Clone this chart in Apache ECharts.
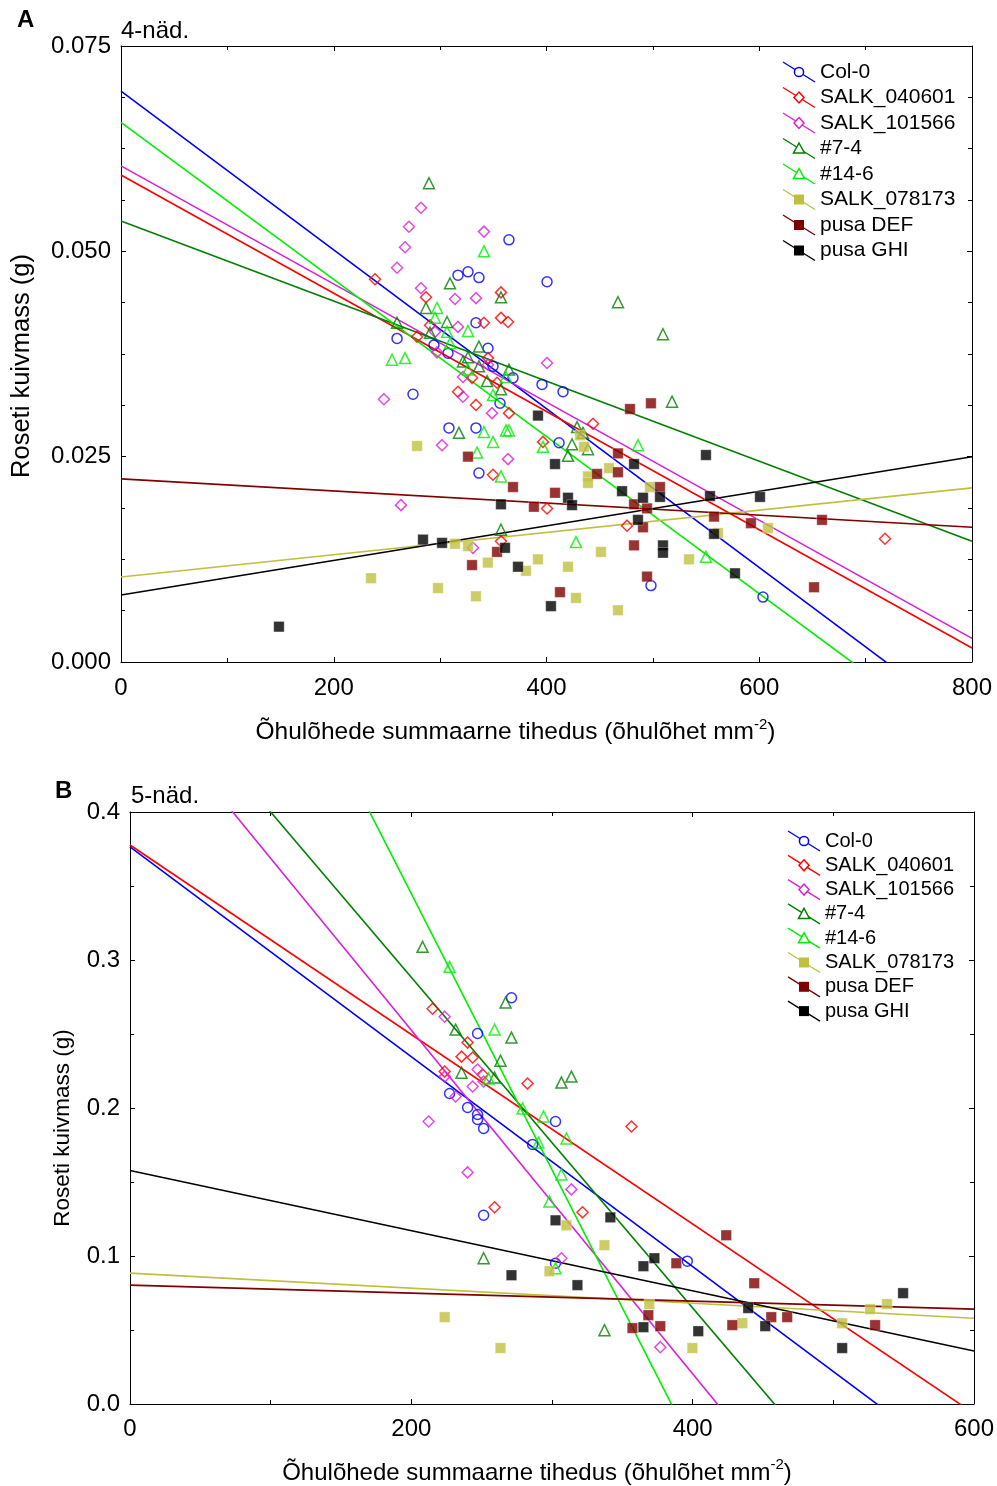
<!DOCTYPE html>
<html>
<head>
<meta charset="utf-8">
<script src="https://cdn.jsdelivr.net/npm/echarts@6/dist/echarts.min.js"></script>
<style>
html, body { margin: 0; padding: 0; background: #fff; }
#chart { width: 997px; height: 1486px; }
</style>
</head>
<body>
<div id="chart"></div>
<script>
const FONT = '"Liberation Sans", Arial, Helvetica, sans-serif';

const seriesNames = ['Col-0', 'SALK_040601', 'SALK_101566', '#7-4', '#14-6', 'SALK_078173', 'pusa DEF', 'pusa GHI'];
const seriesColors = ['#0000ff', '#ff0000', '#d820d8', '#008000', '#00ee00', '#c0c040', '#800000', '#000000'];
const seriesSymbols = ['circle', 'diamond', 'diamond', 'triangle', 'triangle', 'rect', 'rect', 'rect'];
const seriesHollow = [true, true, true, true, true, false, false, false];

// 4 weeks: [total stomatal density, rosette dry mass (g)]
const w4_col0 = [[259.5,0.0394],[294.2,0.0386],[307.4,0.0376],[274.5,0.0326],[308.3,0.0285],[316.8,0.0471],[326.2,0.0475],[336.5,0.0468],[400.5,0.0463],[333.7,0.0413],[345.0,0.0382],[349.7,0.0360],[368.5,0.0346],[395.8,0.0338],[415.5,0.0329],[356.3,0.0315],[333.7,0.0285],[411.8,0.0267],[364.7,0.0514],[336.5,0.0230],[498.2,0.0093],[603.5,0.0079]];
const w4_salk040601 = [[238.8,0.0466],[286.7,0.0444],[290.5,0.0410],[278.3,0.0396],[357.2,0.0450],[341.2,0.0413],[357.2,0.0419],[363.8,0.0414],[345.0,0.0370],[330.0,0.0346],[353.5,0.0340],[316.8,0.0329],[333.7,0.0313],[364.7,0.0303],[443.7,0.0290],[396.7,0.0268],[400.5,0.0187],[475.7,0.0166],[357.2,0.0147],[349.7,0.0228],[718.2,0.0150]];
const w4_salk101566 = [[282.0,0.0553],[270.7,0.0530],[267.0,0.0505],[259.5,0.0480],[282.0,0.0455],[295.2,0.0402],[247.2,0.0320],[301.8,0.0264],[263.2,0.0191],[314.0,0.0442],[333.7,0.0443],[316.8,0.0408],[400.5,0.0364],[321.5,0.0347],[321.5,0.0323],[348.8,0.0303],[297.1,0.0377],[345.0,0.0362],[363.8,0.0247],[330.9,0.0139],[341.2,0.0524]];
const w4_line74 = [[289.5,0.0583],[286.7,0.0431],[259.5,0.0413],[290.5,0.0401],[309.3,0.0461],[357.2,0.0444],[467.2,0.0438],[306.5,0.0414],[509.5,0.0399],[336.5,0.0384],[326.2,0.0371],[321.5,0.0366],[336.5,0.0360],[364.7,0.0356],[344.1,0.0342],[357.2,0.0332],[518.0,0.0317],[317.7,0.0279],[428.7,0.0286],[434.3,0.0279],[424.0,0.0265],[439.0,0.0259],[420.2,0.0251],[357.2,0.0161]];
const w4_line146 = [[297.1,0.0431],[295.2,0.0419],[254.8,0.0368],[267.0,0.0370],[306.5,0.0402],[326.2,0.0403],[309.3,0.0388],[326.2,0.0356],[361.9,0.0347],[349.7,0.0325],[341.2,0.0280],[349.7,0.0268],[361.9,0.0282],[364.7,0.0282],[396.7,0.0262],[486.0,0.0264],[334.7,0.0255],[357.2,0.0226],[427.7,0.0146],[549.9,0.0128],[341.2,0.0500]];
const w4_salk078173 = [[278.3,0.0263],[431.5,0.0276],[435.3,0.0262],[458.8,0.0236],[439.0,0.0226],[439.0,0.0218],[497.3,0.0213],[314.0,0.0144],[326.2,0.0141],[344.9,0.0121],[380.7,0.0111],[392.0,0.0125],[420.2,0.0116],[451.2,0.0134],[298.0,0.0090],[333.7,0.0080],[427.7,0.0078],[467.2,0.0063],[235.0,0.0102],[608.2,0.0163],[561.2,0.0157],[534.0,0.0125]];
const w4_pusaDEF = [[478.5,0.0308],[498.2,0.0315],[326.2,0.0250],[467.2,0.0254],[447.5,0.0229],[467.2,0.0231],[368.5,0.0213],[408.0,0.0206],[506.7,0.0213],[388.2,0.0189],[482.3,0.0192],[494.5,0.0187],[490.7,0.0164],[353.5,0.0134],[330.0,0.0118],[482.3,0.0142],[412.7,0.0085],[494.5,0.0104],[557.5,0.0177],[592.2,0.0169],[659.0,0.0173],[651.5,0.0091]];
const w4_pusaGHI = [[392.0,0.0300],[408.0,0.0241],[482.3,0.0241],[471.0,0.0208],[490.7,0.0200],[506.7,0.0201],[357.2,0.0192],[420.2,0.0200],[424.0,0.0191],[486.0,0.0173],[301.8,0.0145],[283.9,0.0149],[361.0,0.0139],[373.2,0.0116],[509.5,0.0142],[509.5,0.0133],[404.2,0.0068],[148.5,0.0043],[549.9,0.0252],[553.7,0.0202],[600.7,0.0201],[557.5,0.0156],[577.2,0.0108]];
// linear fits for 4 weeks (same order as seriesNames)
const w4_fitIntercept = [0.0695, 0.0593, 0.0604, 0.0537, 0.0657, 0.01035, 0.0223, 0.00816];
const w4_fitSlope = [-9.666e-5, -7.2e-5, -7.19e-5, -4.875e-5, -9.563e-5, 1.356e-5, -7.375e-6, 2.105e-5];
const w4_xTicks = [0, 200, 400, 600, 800];
const w4_yTicks = [0, 0.025, 0.050, 0.075];

// 5 weeks
const w5_col0 = [[271.2,0.2745],[247.1,0.2503],[227.2,0.2098],[240.0,0.2003],[247.1,0.1956],[247.1,0.1922],[251.4,0.1862],[286.2,0.1754],[302.5,0.1909],[251.4,0.1275],[302.5,0.0951],[396.2,0.0965]];
const w5_salk040601 = [[215.1,0.2671],[240.0,0.2442],[235.7,0.2347],[243.6,0.2341],[223.7,0.2246],[250.7,0.2226],[282.6,0.2165],[259.2,0.1329],[321.7,0.1295],[356.5,0.1875]];
const w5_salk101566 = [[223.7,0.2617],[247.1,0.2260],[223.7,0.2212],[243.6,0.2145],[251.4,0.2179],[231.5,0.2078],[212.3,0.1909],[240.0,0.1565],[313.8,0.1450],[306.7,0.0985],[377.0,0.0384]];
const w5_line74 = [[208.0,0.3089],[267.0,0.2712],[231.5,0.2530],[271.2,0.2476],[263.4,0.2320],[235.7,0.2239],[259.2,0.2206],[306.7,0.2172],[313.8,0.2212],[251.4,0.0985],[337.3,0.0499]];
const w5_line146 = [[227.2,0.2954],[259.2,0.2530],[254.9,0.2199],[279.1,0.1997],[294.0,0.1943],[290.4,0.1767],[310.3,0.1794],[306.7,0.1551],[298.2,0.1369],[302.5,0.0917]];
const w5_salk078173 = [[310.3,0.1207],[337.3,0.1073],[298.2,0.0897],[223.7,0.0587],[263.4,0.0378],[369.2,0.0675],[399.8,0.0378],[435.3,0.0546],[526.2,0.0641],[538.2,0.0675],[506.3,0.0546]];
const w5_pusaDEF = [[423.9,0.1140],[388.4,0.0951],[443.8,0.0816],[368.5,0.0600],[377.0,0.0526],[357.2,0.0513],[428.2,0.0533],[455.9,0.0587],[467.2,0.0587],[529.7,0.0533]];
const w5_pusaGHI = [[302.5,0.1241],[341.5,0.1261],[372.8,0.0985],[365.0,0.0931],[271.2,0.0870],[318.1,0.0803],[365.0,0.0519],[404.0,0.0492],[439.5,0.0648],[451.6,0.0526],[549.6,0.0749],[506.3,0.0378]];
// linear fits for 5 weeks
const w5_fitIntercept = [0.3764, 0.3777, 0.4848, 0.5117, 0.7178, 0.0884, 0.0803, 0.1578];
const w5_fitSlope = [-7.089e-4, -6.402e-4, -1.161e-3, -1.117e-3, -1.865e-3, -5.07e-5, -2.7e-5, -2.033e-4];
const w5_xTicks = [0, 200, 400, 600];
const w5_yTicks = [0, 0.1, 0.2, 0.3, 0.4];

const xTitle = '{t|Õhulõhede summaarne tihedus (õhulõhet mm}{s|-2}{t|)}';
const yTitle = 'Roseti kuivmass (g)';

const panels = [
  {
    letter: 'A', label: '4-näd.',
    points: [w4_col0, w4_salk040601, w4_salk101566, w4_line74, w4_line146, w4_salk078173, w4_pusaDEF, w4_pusaGHI],
    intercept: w4_fitIntercept, slope: w4_fitSlope,
    xTicks: w4_xTicks, yTicks: w4_yTicks, yDigits: 3, yMinorSplit: 4,
    grid: { left: 121, top: 46, width: 851, height: 616 },
    letterPos: [17, 20], labelPos: [121, 31],
    xNameGap: 55, xNameSize: 24.5, xNameShift: 62, xLabelMargin: 14,
    yNameGap: 86, yNameSize: 25.5, yNameShift: 24,
    legend: { x: 783, y: 72, dy: 25.5, size: 21 }
  },
  {
    letter: 'B', label: '5-näd.',
    points: [w5_col0, w5_salk040601, w5_salk101566, w5_line74, w5_line146, w5_salk078173, w5_pusaDEF, w5_pusaGHI],
    intercept: w5_fitIntercept, slope: w5_fitSlope,
    xTicks: w5_xTicks, yTicks: w5_yTicks, yDigits: 1, yMinorSplit: 2,
    grid: { left: 130, top: 812, width: 845, height: 593 },
    letterPos: [55, 791], labelPos: [131, 796],
    xNameGap: 53, xNameSize: 24, xNameShift: 30, xLabelMargin: 13,
    yNameGap: 56, yNameSize: 22.5, yNameShift: 40,
    legend: { x: 788, y: 841, dy: 24.3, size: 20 }
  }
];

const grids = [], xAxes = [], yAxes = [], series = [], graphics = [];

function tickStep(ticks) { return ticks[1] - ticks[0]; }

panels.forEach((p, gi) => {
  grids.push(Object.assign({ containLabel: false }, p.grid));
  const xMin = p.xTicks[0], xMax = p.xTicks[p.xTicks.length - 1];
  const yMin = p.yTicks[0], yMax = p.yTicks[p.yTicks.length - 1];
  const lineCommon = { show: true, onZero: false, lineStyle: { color: '#000', width: 1 } };
  const tickCommon = { show: true, inside: true, length: 5, lineStyle: { color: '#000', width: 1 } };
  const minorCommon = { show: true, length: 4, lineStyle: { color: '#000', width: 1 } };
  const labelStyle = { color: '#000', fontFamily: FONT, fontSize: 24 };

  xAxes.push({
    gridIndex: gi, type: 'value', position: 'bottom',
    min: xMin, max: xMax, interval: tickStep(p.xTicks),
    axisLine: lineCommon, axisTick: tickCommon,
    minorTick: Object.assign({ splitNumber: 2 }, minorCommon),
    splitLine: { show: false },
    axisLabel: Object.assign({ margin: p.xLabelMargin, formatter: v => String(v) }, labelStyle),
    name: xTitle, nameLocation: 'middle', nameGap: p.xNameGap,
    nameTextStyle: {
      color: '#000', fontFamily: FONT, fontSize: p.xNameSize,
      padding: [0, p.xNameShift, 0, 0],
      rich: {
        t: { color: '#000', fontFamily: FONT, fontSize: p.xNameSize, lineHeight: 28, verticalAlign: 'bottom' },
        s: { color: '#000', fontFamily: FONT, fontSize: 15, lineHeight: 16, verticalAlign: 'top' }
      }
    }
  });
  xAxes.push({
    gridIndex: gi, type: 'value', position: 'top',
    min: xMin, max: xMax, interval: tickStep(p.xTicks),
    axisLine: lineCommon, axisTick: tickCommon,
    minorTick: Object.assign({ splitNumber: 2 }, minorCommon),
    splitLine: { show: false }, axisLabel: { show: false }
  });
  yAxes.push({
    gridIndex: gi, type: 'value', position: 'left',
    min: yMin, max: yMax, interval: tickStep(p.yTicks),
    axisLine: lineCommon, axisTick: tickCommon,
    minorTick: Object.assign({ splitNumber: p.yMinorSplit }, minorCommon),
    splitLine: { show: false },
    axisLabel: Object.assign({ margin: 10, formatter: v => v.toFixed(p.yDigits) }, labelStyle),
    name: yTitle, nameLocation: 'middle', nameGap: p.yNameGap, nameRotate: 90,
    nameTextStyle: { color: '#000', fontFamily: FONT, fontSize: p.yNameSize, padding: [0, p.yNameShift, 0, 0] }
  });
  yAxes.push({
    gridIndex: gi, type: 'value', position: 'right',
    min: yMin, max: yMax, interval: tickStep(p.yTicks),
    axisLine: lineCommon, axisTick: tickCommon,
    minorTick: Object.assign({ splitNumber: p.yMinorSplit }, minorCommon),
    splitLine: { show: false }, axisLabel: { show: false }
  });

  const xAxisIndex = gi * 2, yAxisIndex = gi * 2;

  // regression lines, clipped to the plot area
  seriesNames.forEach((name, si) => {
    const b = p.intercept[si], m = p.slope[si];
    series.push({
      type: 'line', name: name + ' fit', xAxisIndex, yAxisIndex,
      data: [[xMin, b + m * xMin], [xMax, b + m * xMax]],
      showSymbol: false, symbol: 'none', clip: true, silent: true, z: 2,
      lineStyle: { color: seriesColors[si], width: 1.6 }
    });
  });

  // observations
  seriesNames.forEach((name, si) => {
    const hollow = seriesHollow[si];
    const sym = seriesSymbols[si];
    const size = sym === 'rect' ? 10.5 : (sym === 'circle' ? 10 : 11);
    series.push({
      type: 'scatter', name, xAxisIndex, yAxisIndex,
      data: p.points[si], symbol: sym, symbolSize: size, z: 3, clip: true,
      itemStyle: hollow
        ? { color: 'rgba(255,255,255,0)', borderColor: seriesColors[si], borderWidth: 1.5 }
        : { color: seriesColors[si], borderColor: 'rgba(255,255,255,0.5)', borderWidth: 0.8 }
    });
  });

  // panel letter and age label
  graphics.push({
    type: 'text', x: p.letterPos[0], y: p.letterPos[1],
    style: { text: p.letter, fontFamily: FONT, fontSize: 24, fontWeight: 'bold', fill: '#000', verticalAlign: 'middle', align: 'left' }
  });
  graphics.push({
    type: 'text', x: p.labelPos[0], y: p.labelPos[1],
    style: { text: p.label, fontFamily: FONT, fontSize: 24, fill: '#000', verticalAlign: 'middle', align: 'left' }
  });

  // legend with slanted line keys
  const L = p.legend;
  seriesNames.forEach((name, si) => {
    const yc = L.y + L.dy * si;
    const cx = L.x + 16, cy = yc;
    const col = seriesColors[si];
    graphics.push({
      type: 'line', silent: true, z: 10,
      shape: { x1: L.x, y1: yc - 10, x2: L.x + 32, y2: yc + 10 },
      style: { stroke: col, lineWidth: 1.4 }
    });
    const markStyle = seriesHollow[si]
      ? { fill: '#fff', stroke: col, lineWidth: 1.5 }
      : { fill: col, stroke: null };
    let mark;
    const sym = seriesSymbols[si];
    if (sym === 'circle') {
      mark = { type: 'circle', shape: { cx, cy, r: 4.6 } };
    } else if (sym === 'diamond') {
      mark = { type: 'polygon', shape: { points: [[cx, cy - 5.5], [cx + 5, cy], [cx, cy + 5.5], [cx - 5, cy]] } };
    } else if (sym === 'triangle') {
      mark = { type: 'polygon', shape: { points: [[cx, cy - 5.5], [cx + 5.5, cy + 4.5], [cx - 5.5, cy + 4.5]] } };
    } else {
      mark = { type: 'rect', shape: { x: cx - 5, y: cy - 5, width: 10, height: 10 } };
    }
    mark.style = markStyle; mark.z = 11; mark.silent = true;
    graphics.push(mark);
    graphics.push({
      type: 'text', x: L.x + 37, y: yc, z: 11, silent: true,
      style: { text: name, fontFamily: FONT, fontSize: L.size, fill: '#000', verticalAlign: 'middle', align: 'left' }
    });
  });
});

const chart = echarts.init(document.getElementById('chart'), null, { renderer: 'canvas' });
chart.setOption({
  backgroundColor: '#fff',
  animation: false,
  grid: grids,
  xAxis: xAxes,
  yAxis: yAxes,
  series,
  graphic: graphics
});
</script>
</body>
</html>
